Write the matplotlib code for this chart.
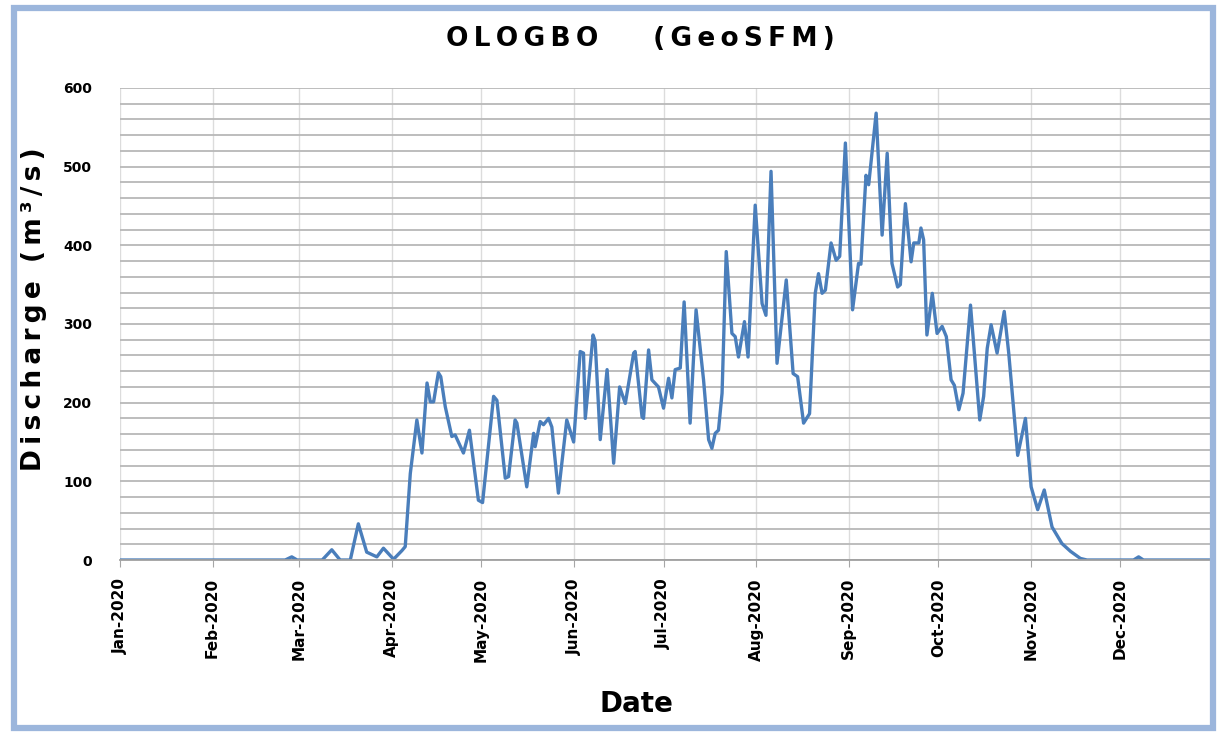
import numpy as np
import pandas as pd
import matplotlib
matplotlib.use("Agg")
import matplotlib.pyplot as plt
import matplotlib.dates as mdates
from matplotlib.patches import Rectangle
from matplotlib.ticker import MultipleLocator

# Days since 1 Jan 2020 and simulated discharge (m3/s)
day = [0, 55.3, 57.5, 59.3, 67.7, 70.9, 73.7, 77.1, 79.8, 82.6, 86.0, 88.2,
       91.6, 94.4, 95.5, 97.2, 99.4, 101.1, 102.8, 103.9, 105.0, 106.6, 107.4,
       108.9, 111.1, 112.2, 115.0, 117.0, 120.0, 121.4, 125.1, 126.2, 129.0,
       130.1, 132.3, 132.9, 136.2, 138.5, 139.0, 140.7, 141.8, 143.5, 144.6,
       146.8, 149.6, 151.9, 154.1, 155.2, 155.8, 158.4, 159.1, 160.8, 163.1,
       165.3, 167.3, 169.2, 172.0, 172.5, 174.8, 175.3, 177.0, 178.1, 180.3,
       182.0, 183.7, 184.8, 185.9, 187.6, 188.9, 190.9, 192.9, 195.4, 197.1,
       198.2, 199.3, 200.4, 201.6, 203.0, 204.9, 206.0, 207.1, 209.1, 210.3,
       212.7, 215.0, 216.3, 218.0, 220.0, 223.1, 225.4, 226.9, 228.9, 230.9,
       232.8, 233.9, 235.1, 236.2, 238.1, 239.8, 241.0, 242.9, 245.3, 247.3,
       248.1, 249.8, 250.7, 253.2, 255.2, 256.9, 258.5, 260.4, 261.3, 263.0,
       264.9, 265.8, 267.5, 268.2, 269.1, 270.2, 272.0, 273.6, 275.3, 276.7,
       278.3, 279.4, 280.9, 282.3, 284.8, 287.9, 289.2, 290.4, 291.7, 293.7,
       296.1, 297.6, 300.6, 303.2, 305.1, 307.3, 309.5, 312.1, 315.4, 318.3,
       321.6, 323.8, 339.4, 341.1, 342.7, 365]
discharge = [0, 0, 4, 0, 0, 13, 0, 0, 46, 10, 4, 15,
             1, 12, 17, 110, 178, 136, 225, 201, 201, 238, 233,
             195, 157, 159, 136, 165, 76, 73, 208, 203, 104,
             106, 178, 174, 93, 161, 144, 176, 172, 180, 169,
             85, 178, 150, 265, 263, 180, 286, 278, 153, 242,
             123, 220, 199, 263, 265, 182, 180, 267, 229, 220,
             193, 231, 206, 242, 244, 328, 174, 318, 229, 153,
             142, 161, 165, 212, 392, 288, 284, 258, 303, 258,
             451, 326, 311, 494, 250, 356, 237, 233, 174, 186,
             339, 364, 339, 343, 403, 381, 386, 530, 318, 377,
             376, 489, 477, 568, 413, 517, 377, 347, 350, 453,
             379, 403, 403, 422, 407, 286, 339, 288, 297, 284,
             229, 222, 191, 212, 324, 178, 208, 269, 299, 263,
             316, 263, 133, 180, 93, 64, 89, 42, 21, 11,
             2, 0, 0, 4, 0, 0]

dates = pd.Timestamp("2020-01-01") + pd.to_timedelta(day, unit="D")

def spaced(s):
    return "\u2009".join(s)

fig = plt.figure(figsize=(12.2, 7.33), dpi=100)
ax = fig.add_axes([0.0984, 0.236, 0.8934, 0.644])

ax.plot(dates, discharge, color="#4A7EBB", lw=2.4, solid_joinstyle="round")

ax.set_xlim(pd.Timestamp("2020-01-01"), pd.Timestamp("2020-12-31"))
ax.set_ylim(0, 600)
ax.xaxis.set_major_locator(mdates.MonthLocator())
ax.xaxis.set_major_formatter(mdates.DateFormatter("%b-%Y"))
ax.yaxis.set_major_locator(MultipleLocator(100))
ax.yaxis.set_minor_locator(MultipleLocator(20))

ax.grid(axis="y", which="both", color="#B8B8B8", lw=1.3)
ax.grid(axis="x", which="major", color="#DCDCDC", lw=1.0)
ax.set_axisbelow(True)
for s in ["top", "right", "left"]:
    ax.spines[s].set_visible(False)
ax.spines["bottom"].set_color("#A0A0A0")
ax.spines["bottom"].set_linewidth(1.3)

ax.tick_params(axis="y", which="both", length=0, pad=20)
ax.tick_params(axis="x", length=5, color="#A6A6A6", pad=8)
for lab in ax.get_yticklabels():
    lab.set_fontweight("bold")
    lab.set_fontsize(10)
for lab in ax.get_xticklabels():
    lab.set_fontweight("bold")
    lab.set_fontsize(11)
    lab.set_rotation(90)

fig.text(0.525, 0.947, spaced("OLOGBO") + "      " + spaced("(GeoSFM)"),
         ha="center", va="center", fontsize=19, fontweight="bold")
fig.text(0.522, 0.04, "Date", ha="center", va="center",
         fontsize=20, fontweight="bold")
fig.text(0.028, 0.578, spaced("Discharge") + "  " + spaced("(m³/s)"),
         ha="center", va="center", rotation=90, fontsize=19, fontweight="bold")

# light blue frame around the figure
fig.patches.append(Rectangle((0.0115, 0.0075), 0.9825, 0.981,
                             transform=fig.transFigure, fill=False,
                             edgecolor="#9CB6DC", lw=4.5))

fig.savefig("out.png", dpi=100)
